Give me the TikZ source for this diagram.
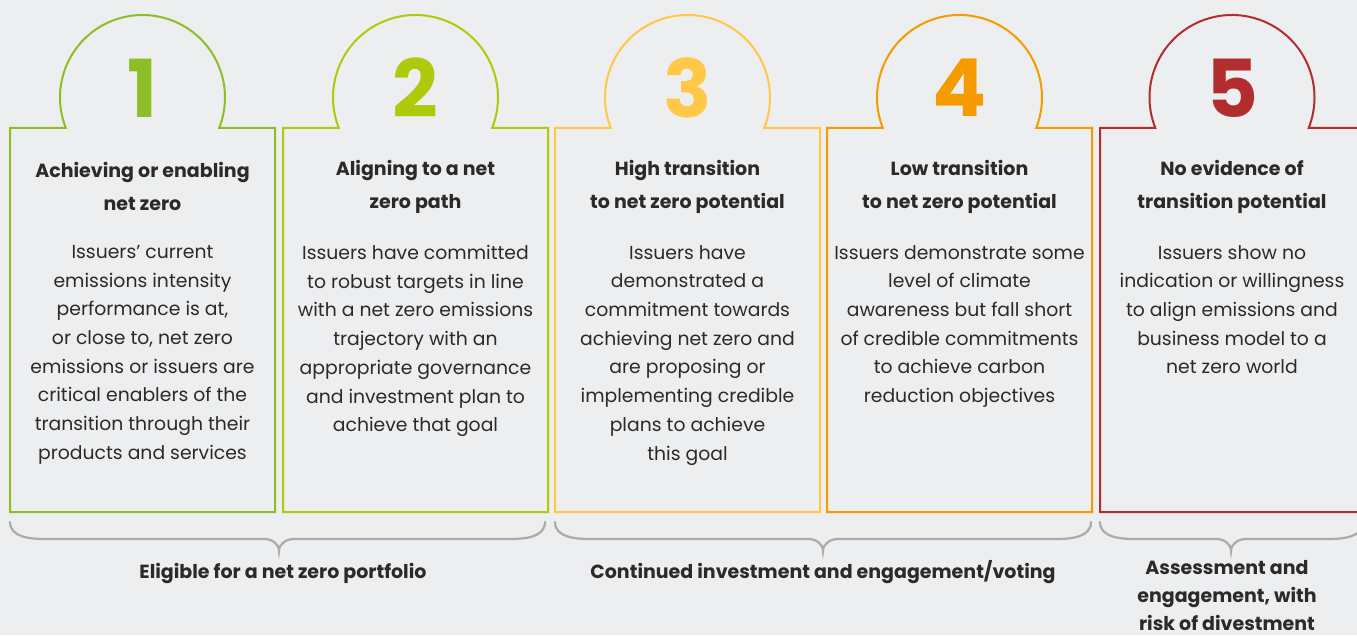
\documentclass[tikz,border=0pt]{standalone}
\usepackage{fontspec}
\setmainfont{Poppins}
\definecolor{paper}{HTML}{EDEEF0}
\definecolor{ink}{HTML}{2A2A2A}
\definecolor{bracegrey}{HTML}{ABABAB}
\definecolor{stage1}{HTML}{8CBF26}
\definecolor{stage2}{HTML}{AFCA0B}
\definecolor{stage3}{HTML}{FFC846}
\definecolor{stage4}{HTML}{F59B00}
\definecolor{stage5}{HTML}{B22E2E}
\usetikzlibrary{positioning}
\usetikzlibrary{calc}

\begin{document}
\begin{tikzpicture}[x=1pt,y=1pt,
  stageline/.style={line width=2pt, line join=miter},
  stagenum/.style={font=\fontsize{80}{80}\selectfont\bfseries, inner sep=0pt},
  stagetitle/.style={font=\fontsize{19}{33}\selectfont\bfseries, color=ink, align=center, inner sep=0pt},
  stagebody/.style={font=\fontsize{18.8}{28.7}\selectfont, color=ink, align=center, inner sep=0pt, anchor=north},
  bracket/.style={draw=bracegrey, line width=2.2pt, line cap=round},
  bracelabel/.style={font=\fontsize{19}{28}\selectfont\bfseries, color=ink, align=center, inner sep=0pt}]

  % page
  \fill[paper] (0,0) rectangle (1357,635);
  \clip (0,0) rectangle (1357,635);

  % circle centres
  \coordinate (c1) at (142.5,537.5);
  \coordinate (c2) at (415.5,537.5);
  \coordinate (c3) at (687.5,537.5);
  \coordinate (c4) at (959.5,537.5);
  \coordinate (c5) at (1232,537.5);

  % Stage 1
  \draw[stage1, stageline] (10,123) -- (10,507) -- ($(c1)+(201.7:82.5)$) arc[start angle=201.7, end angle=-21.7, radius=82.5] -- (275,507) -- (275,123) -- cycle;
  \node[stagenum, stage1] (num1) at ($(c1)+(0,9.5)$) {1};
  \node[stagetitle] (title1) at (142.5,448.5) {Achieving or enabling\\net zero};
  \node[stagebody] (body1) at (142.5,390) {Issuers' current\\emissions intensity\\performance is at,\\or close to, net zero\\emissions or issuers are\\critical enablers of the\\transition through their\\products and services};

  % Stage 2
  \draw[stage2, stageline] (283,123) -- (283,507) -- ($(c2)+(201.7:82.5)$) arc[start angle=201.7, end angle=-21.7, radius=82.5] -- (548,507) -- (548,123) -- cycle;
  \node[stagenum, stage2] (num2) at ($(c2)+(0,9.5)$) {2};
  \node[stagetitle] (title2) at (415.5,448.5) {Aligning to a net\\zero path};
  \node[stagebody] (body2) at (415.5,390) {Issuers have committed\\to robust targets in line\\with a net zero emissions\\trajectory with an\\appropriate governance\\and investment plan to\\achieve that goal};

  % Stage 3
  \draw[stage3, stageline] (555,123) -- (555,507) -- ($(c3)+(201.7:82.5)$) arc[start angle=201.7, end angle=-21.7, radius=82.5] -- (820,507) -- (820,123) -- cycle;
  \node[stagenum, stage3] (num3) at ($(c3)+(0,9.5)$) {3};
  \node[stagetitle] (title3) at (687.5,448.5) {High transition\\to net zero potential};
  \node[stagebody] (body3) at (687.5,390) {Issuers have\\demonstrated a\\commitment towards\\achieving net zero and\\are proposing or\\implementing credible\\plans to achieve\\this goal};

  % Stage 4
  \draw[stage4, stageline] (827,123) -- (827,507) -- ($(c4)+(201.7:82.5)$) arc[start angle=201.7, end angle=-21.7, radius=82.5] -- (1092,507) -- (1092,123) -- cycle;
  \node[stagenum, stage4] (num4) at ($(c4)+(0,9.5)$) {4};
  \node[stagetitle] (title4) at (959.5,448.5) {Low transition\\to net zero potential};
  \node[stagebody] (body4) at (959.5,390) {Issuers demonstrate some\\level of climate\\awareness but fall short\\of credible commitments\\to achieve carbon\\reduction objectives};

  % Stage 5 (runs off the right edge)
  \draw[stage5, stageline] (1100,123) -- (1100,507) -- ($(c5)+(201.7:82.5)$) arc[start angle=201.7, end angle=-21.7, radius=82.5] -- (1366,507) -- (1366,123) -- cycle;
  \node[stagenum, stage5] (num5) at ($(c5)+(0,9.5)$) {5};
  \node[stagetitle] (title5) at (1232,448.5) {No evidence of\\transition potential};
  \node[stagebody] (body5) at (1232,390) {Issuers show no\\indication or willingness\\to align emissions and\\business model to a\\net zero world};

  % Braces
  \coordinate (tip1) at (279,84);
  \coordinate (tip2) at (823,84);
  \coordinate (tip3) at (1231,84);
  \draw[bracket] (10,113) to[out=-90,in=180] (45,96) -- (264,96) to[out=0,in=90] (tip1) to[out=90,in=180] (294,96) -- (510,96) to[out=0,in=-90] (545,113);
  \draw[bracket] (555,113) to[out=-90,in=180] (590,96) -- (808,96) to[out=0,in=90] (tip2) to[out=90,in=180] (838,96) -- (1056,96) to[out=0,in=-90] (1091,113);
  \draw[bracket] (1100,113) to[out=-90,in=180] (1135,96) -- (1216,96) to[out=0,in=90] (tip3) to[out=90,in=180] (1246,96) -- (1328,96) to[out=0,in=-90] (1363,113);

  \node[bracelabel, anchor=base] (label1) at ($(tip1)+(4,-27)$) {Eligible for a net zero portfolio};
  \node[bracelabel, anchor=base] (label2) at ($(tip2)+(0,-27)$) {Continued investment and engagement/voting};
  \node[bracelabel] (label3) at ($(tip3)+(-4,-45)$) {Assessment and\\engagement, with\\risk of divestment};

\end{tikzpicture}
\end{document}
